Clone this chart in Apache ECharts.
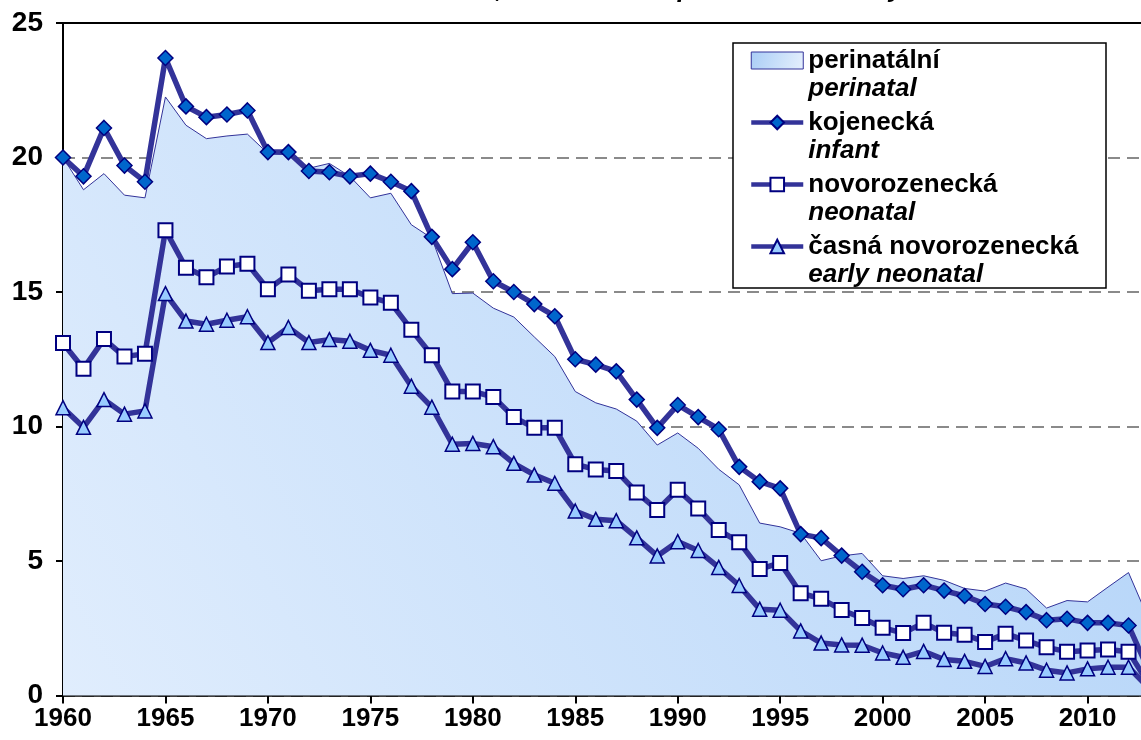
<!DOCTYPE html>
<html><head><meta charset="utf-8">
<script src="https://cdn.jsdelivr.net/npm/echarts@6/dist/echarts.min.js"></script>
<style>html,body{margin:0;padding:0;overflow:hidden;background:#fff}#c{width:1141px;height:740px}</style>
</head><body><div id="c"></div><script>
const years = [1960,1961,1962,1963,1964,1965,1966,1967,1968,1969,1970,1971,1972,1973,1974,1975,1976,1977,1978,1979,1980,1981,1982,1983,1984,1985,1986,1987,1988,1989,1990,1991,1992,1993,1994,1995,1996,1997,1998,1999,2000,2001,2002,2003,2004,2005,2006,2007,2008,2009,2010,2011,2012,2013];
const perinatal = [20.0,18.8,19.4,18.6,18.5,22.25,21.2,20.7,20.8,20.87,20.15,20.1,19.6,19.78,19.3,18.5,18.67,17.5,17.0,14.94,14.96,14.4,14.07,13.33,12.6,11.3,10.88,10.65,10.2,9.31,9.76,9.19,8.41,7.83,6.41,6.27,6.03,5.01,5.19,5.28,4.45,4.35,4.45,4.28,3.98,3.88,4.18,3.96,3.25,3.53,3.48,4.03,4.57,2.8];
const infant = [20.0,19.3,21.1,19.7,19.1,23.7,21.9,21.5,21.6,21.75,20.2,20.2,19.5,19.45,19.3,19.4,19.1,18.75,17.05,15.85,16.85,15.4,15.0,14.55,14.1,12.5,12.3,12.05,11.0,9.95,10.8,10.35,9.9,8.5,7.95,7.7,6.0,5.85,5.2,4.6,4.1,3.95,4.1,3.9,3.7,3.4,3.3,3.1,2.8,2.85,2.7,2.7,2.6,0.9];
const neonatal = [13.1,12.15,13.25,12.6,12.7,17.3,15.9,15.55,15.95,16.05,15.1,15.65,15.05,15.1,15.1,14.8,14.6,13.6,12.65,11.3,11.3,11.1,10.35,9.95,9.95,8.6,8.4,8.35,7.55,6.9,7.65,6.95,6.15,5.7,4.7,4.93,3.8,3.6,3.18,2.88,2.52,2.32,2.7,2.33,2.26,1.99,2.3,2.04,1.79,1.63,1.67,1.71,1.63,0.41];
const earlyNeonatal = [10.7,9.97,11.0,10.46,10.58,14.94,13.92,13.8,13.95,14.08,13.12,13.68,13.12,13.23,13.17,12.83,12.65,11.5,10.72,9.34,9.37,9.25,8.63,8.2,7.89,6.86,6.55,6.5,5.86,5.19,5.72,5.39,4.76,4.09,3.21,3.17,2.4,1.95,1.88,1.87,1.58,1.42,1.64,1.34,1.27,1.08,1.37,1.21,0.94,0.84,0.99,1.05,1.05,0.27];
const seriesNames = ['perinatální','kojenecká','novorozenecká','časná novorozenecká'];
const seriesNamesEn = ['perinatal','infant','neonatal','early neonatal'];
const yTicks = [0,5,10,15,20,25];
const titleText = 'Infant, neonatal and perinatal mortality';

const FONT = "'Liberation Sans', Arial, sans-serif";
const LINE = '#333399';
const MARK_BORDER = '#000080';
const pair = arr => years.map((y, i) => [y, arr[i]]);
const areaGrad = () => new echarts.graphic.LinearGradient(1, 0, 0, 1, [
  {offset: 0, color: '#b0d2f8'}, {offset: 1, color: '#e0edfd'}]);
const legendIconGrad = () => new echarts.graphic.LinearGradient(0, 0, 1, 1, [
  {offset: 0, color: '#a9cdf6'}, {offset: 1, color: '#e6f0fd'}]);

const chart = echarts.init(document.getElementById('c'), null, {renderer: 'canvas', width: 1141, height: 740});
const lineSeries = (name, arr, symbol, size, fill, bw) => ({
  name, type: 'line', data: pair(arr), symbol, symbolSize: size,
  lineStyle: {color: LINE, width: 5.5},
  itemStyle: {color: fill, borderColor: MARK_BORDER, borderWidth: bw},
  emphasis: {disabled: true}, z: 3
});
const legendLine = {color: LINE, width: 4.5};
chart.setOption({
  animation: false,
  textStyle: {fontFamily: FONT},
  grid: {left: 63, right: -49, top: 23, bottom: 44.5, containLabel: false, outerBoundsMode: 'none'},
  xAxis: [{
    type: 'value', min: 1960, max: 2015, interval: 5,
    axisLine: {show: true, lineStyle: {color: '#000', width: 2.5}},
    axisTick: {show: true, length: 8, lineStyle: {color: '#000', width: 2}},
    axisLabel: {color: '#000', fontSize: 26, fontWeight: 'bold', fontFamily: FONT, margin: 10,
      formatter: v => String(v)},
    splitLine: {show: false}
  }, {
    type: 'value', position: 'top', min: 1960, max: 2015,
    axisLine: {show: true, onZero: false, lineStyle: {color: '#000', width: 2}},
    axisTick: {show: false}, axisLabel: {show: false}, splitLine: {show: false}
  }],
  yAxis: {
    type: 'value', min: yTicks[0], max: yTicks[yTicks.length - 1], interval: 5,
    axisLine: {show: true, lineStyle: {color: '#000', width: 2}},
    axisTick: {show: true, length: 7, lineStyle: {color: '#000', width: 2}},
    axisLabel: {color: '#000', fontSize: 28, fontWeight: 'bold', fontFamily: FONT, margin: 20},
    splitLine: {show: true, lineStyle: {color: '#8a8a8a', width: 2, type: [12, 7]}}
  },
  legend: {
    orient: 'vertical', left: 749, top: 19, padding: 0, z: 6,
    itemWidth: 52, itemHeight: 17, itemGap: -21, selectedMode: false,
    data: [
      {name: seriesNames[0], icon: 'rect', itemStyle: {color: legendIconGrad(), borderColor: LINE, borderWidth: 1}},
      {name: seriesNames[1], lineStyle: legendLine},
      {name: seriesNames[2], lineStyle: legendLine},
      {name: seriesNames[3], lineStyle: legendLine}
    ],
    formatter: n => n + '\n{i|' + seriesNamesEn[seriesNames.indexOf(n)] + '}',
    textStyle: {fontSize: 26, fontWeight: 'bold', color: '#000', fontFamily: FONT, lineHeight: 29,
      padding: [27, 0, 0, 0],
      rich: {i: {fontSize: 26, fontWeight: 'bold', fontStyle: 'italic', color: '#000', fontFamily: FONT, lineHeight: 27}}}
  },
  graphic: [
    {type: 'rect', z: 5, shape: {x: 733, y: 43, width: 373, height: 245},
     style: {fill: '#fff', stroke: '#000', lineWidth: 1.5}},
    {type: 'text', z: 5, x: 425, y: -10,
     style: {text: titleText, font: "italic bold 26px " + FONT, fill: '#000', textAlign: 'left', textVerticalAlign: 'middle'}}
  ],
  series: [
    {name: seriesNames[0], type: 'line', data: pair(perinatal), symbol: 'none', z: 2,
     lineStyle: {color: LINE, width: 1}, itemStyle: {color: LINE},
     areaStyle: {color: areaGrad(), opacity: 1}, emphasis: {disabled: true}},
    lineSeries(seriesNames[1], infant, 'diamond', 15, '#0066cc', 1.5),
    lineSeries(seriesNames[2], neonatal, 'rect', 14, '#ffffff', 2),
    lineSeries(seriesNames[3], earlyNeonatal, 'triangle', 14, '#99ccff', 1.5)
  ]
});
</script></body></html>
